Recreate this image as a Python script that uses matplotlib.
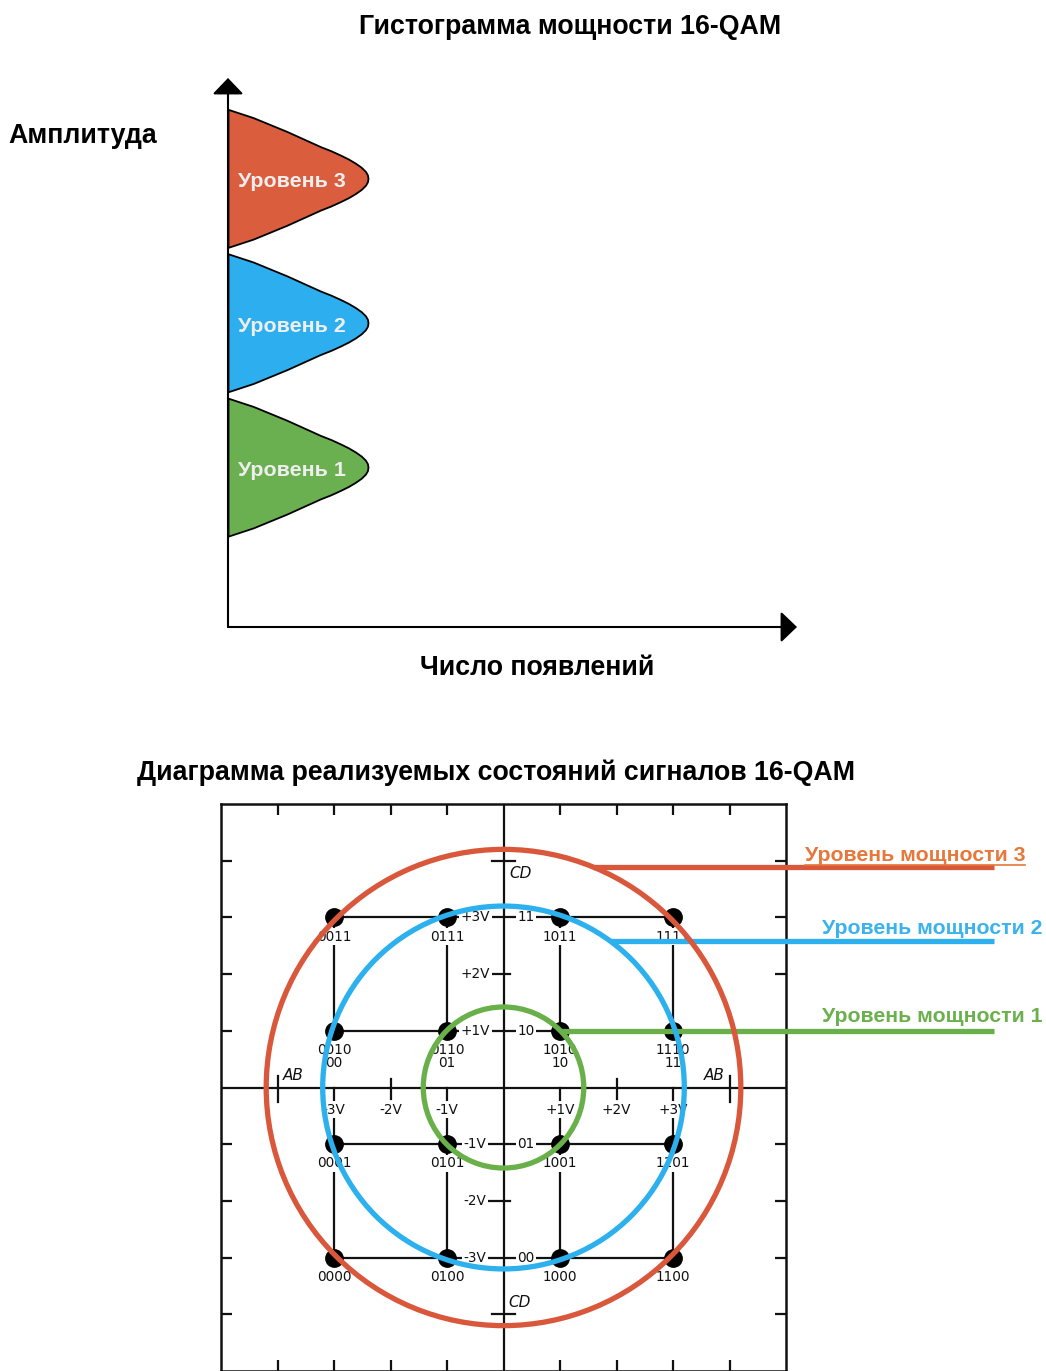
import numpy as np
import matplotlib
matplotlib.use("Agg")
import matplotlib.pyplot as plt
from matplotlib.patches import Circle

plt.rcParams["font.family"] = ["Liberation Sans", "DejaVu Sans"]

W, H = 1046, 1371

# ---------------- power histogram data ----------------
hist_levels = [1, 2, 3]
hist_names = ["Уровень 1", "Уровень 2", "Уровень 3"]
hist_colors = ["#6AAF50", "#2DAFEF", "#DA5E3E"]
# shared bell profile: offset from level centre (in half-heights) -> relative count
profile_offset = [-1.0, -0.88, -0.78, -0.68, -0.57, -0.46, -0.40, -0.34, -0.28,
                  -0.22, -0.16, -0.10, -0.05, 0.0,
                  0.05, 0.10, 0.16, 0.22, 0.28, 0.34, 0.40, 0.46, 0.57, 0.68,
                  0.78, 0.88, 1.0]
profile_count = [0.0, 0.18, 0.30, 0.42, 0.54, 0.66, 0.735, 0.80, 0.86,
                 0.91, 0.952, 0.982, 0.996, 1.0,
                 0.996, 0.982, 0.952, 0.91, 0.86, 0.80, 0.735, 0.66, 0.54, 0.42,
                 0.30, 0.18, 0.0]
level_half_height = 0.478

# ---------------- 16-QAM constellation data ----------------
point_i = [-3, -1, 1, 3, -3, -1, 1, 3, -3, -1, 1, 3, -3, -1, 1, 3]
point_q = [3, 3, 3, 3, 1, 1, 1, 1, -1, -1, -1, -1, -3, -3, -3, -3]
point_code = ["0011", "0111", "1011", "1111",
              "0010", "0110", "1010", "1110",
              "0001", "0101", "1001", "1101",
              "0000", "0100", "1000", "1100"]
row1_i = [-3, -1, 1, 3]
row1_sub = ["00", "01", "10", "11"]

q_volt_values = [3, 2, 1, -1, -2, -3]
q_volt_labels = ["+3V", "+2V", "+1V", "-1V", "-2V", "-3V"]
q_bit_values = [3, 1, -1, -3]
q_bit_labels = ["11", "10", "01", "00"]
i_volt_values = [-3, -2, -1, 1, 2, 3]
i_volt_labels = ["-3V", "-2V", "-1V", "+1V", "+2V", "+3V"]

power_radius = [1.42, 3.2, 4.2]
power_names = ["Уровень мощности 1", "Уровень мощности 2", "Уровень мощности 3"]
power_colors = ["#69B04A", "#2CB0EE", "#D9573A"]
power_text_colors = ["#6AB04C", "#3AB2EE", "#E5783A"]
connector_q = [1.0, 2.58, 3.89]

fig = plt.figure(figsize=(W / 100, H / 100), dpi=100)


def fig_xy(px, py):
    return px / W, 1 - py / H


# ---------------- histogram ----------------
ax1 = fig.add_axes([228 / W, 1 - 627 / H, 569 / W, 549 / H])
ax1.set_xlim(0, 569 / 140)
ax1.set_ylim(-0.107, 3.695)
ax1.axis("off")

off = np.array(profile_offset)
cnt = np.array(profile_count)
for lvl, name, col in zip(hist_levels, hist_names, hist_colors):
    yy = lvl + off * level_half_height
    ax1.fill_betweenx(yy, 0, cnt, facecolor=col, edgecolor="black",
                      linewidth=1.3, zorder=2)
    ax1.text(0.07, lvl - 0.025, name, color="#EEEEEE", fontsize=15.4,
             fontweight="bold", ha="left", va="center", zorder=3)

arrow = dict(arrowstyle="-|>,head_length=0.5,head_width=0.48", lw=1.5,
             color="black", shrinkA=0, shrinkB=0, mutation_scale=20)
ax1.annotate("", xy=(0, 1), xytext=(0, 0), xycoords="axes fraction",
             textcoords="axes fraction", arrowprops=arrow, zorder=4)
ax1.annotate("", xy=(1, 0), xytext=(0, 0), xycoords="axes fraction",
             textcoords="axes fraction", arrowprops=arrow, zorder=4)

title_fs = 19.3
fig.text(*fig_xy(570, 27), "Гистограмма мощности 16-QAM", fontsize=title_fs,
         fontweight="bold", ha="center", va="center")
fig.text(*fig_xy(8, 136), "Амплитуда", fontsize=title_fs, fontweight="bold",
         ha="left", va="center")
fig.text(*fig_xy(537, 668), "Число появлений", fontsize=title_fs,
         fontweight="bold", ha="center", va="center")
fig.text(*fig_xy(496, 773), "Диаграмма реализуемых состояний сигналов 16-QAM",
         fontsize=title_fs, fontweight="bold", ha="center", va="center")

# ---------------- constellation ----------------
ax2 = fig.add_axes([221 / W, 1 - 1371 / H, 565 / W, 567 / H])
ax2.set_xlim(-5, 5)
ax2.set_ylim(-5, 5)
ticks = [-4, -3, -2, -1, 1, 2, 3, 4]
ax2.set_xticks(ticks)
ax2.set_yticks(ticks)
ax2.tick_params(direction="in", length=8, width=1.6, top=True, right=True,
                labelbottom=False, labelleft=False, color="#111111")
for s in ax2.spines.values():
    s.set_linewidth(1.8)
    s.set_color("#111111")

lab_font = dict(family="DejaVu Sans", fontsize=9.8, color="#111111")
box = dict(boxstyle="square,pad=0.12", fc="white", ec="none")

# central axes
ax2.axhline(0, color="#111111", lw=1.6, zorder=1)
ax2.axvline(0, color="#111111", lw=1.6, zorder=1)
# end ticks on the central axes
for v in (-4, 4):
    ax2.plot([v, v], [-0.25, 0.2], color="#111111", lw=1.6, zorder=1)
    ax2.plot([-0.2, 0.2], [v, v], color="#111111", lw=1.6, zorder=1)
for v in (-2, 2):
    ax2.plot([v, v], [-0.2, 0.15], color="#111111", lw=1.6, zorder=1)
    ax2.plot([-0.25, 0.12], [v, v], color="#111111", lw=1.6, zorder=1)

# grid lines joining the symbol points
grid_lw = 1.6
for q in (3, 1, -1, -3):
    ax2.plot([-3, 3], [q, q], color="#111111", lw=grid_lw, zorder=1)
for i in (-3, -1, 1, 3):
    ax2.plot([i, i], [3, 1], color="#111111", lw=grid_lw, zorder=1)
    ax2.plot([i, i], [0, -3], color="#111111", lw=grid_lw, zorder=1)

# voltage / bit labels on the axes
for v, t in zip(q_volt_values, q_volt_labels):
    ax2.text(-0.5, v, t, ha="center", va="center", bbox=box, zorder=2, **lab_font)
for v, t in zip(q_bit_values, q_bit_labels):
    ax2.text(0.4, v, t, ha="center", va="center", bbox=box, zorder=2, **lab_font)
for v, t in zip(i_volt_values, i_volt_labels):
    ax2.text(v, -0.39, t, ha="center", va="center", bbox=box, zorder=2, **lab_font)

# symbol points and their codes
ax2.plot(point_i, point_q, "o", color="black", markersize=12.5, zorder=3)
for i, q, c in zip(point_i, point_q, point_code):
    ax2.text(i, q - 0.34, c, ha="center", va="center", bbox=box, zorder=2, **lab_font)
for i, c in zip(row1_i, row1_sub):
    ax2.text(i, 1 - 0.57, c, ha="center", va="center", bbox=box, zorder=2, **lab_font)

ital = dict(family="DejaVu Sans", fontsize=11, style="italic", color="#111111")
ax2.text(-3.72, 0.22, "AB", ha="center", va="center", zorder=2, **ital)
ax2.text(3.73, 0.22, "AB", ha="center", va="center", zorder=2, **ital)
ax2.text(0.3, 3.77, "CD", ha="center", va="center", zorder=2, **ital)
ax2.text(0.28, -3.79, "CD", ha="center", va="center", zorder=2, **ital)

# power level circles and their connectors
legend_x = [5.63, 5.63, 5.33]
legend_y = [1.26, 2.81, 4.1]
for r, name, col, tcol, cq, lx, ly in zip(power_radius, power_names, power_colors,
                                          power_text_colors, connector_q,
                                          legend_x, legend_y):
    ax2.add_patch(Circle((0, 0), r, fill=False, edgecolor=col, lw=3.8, zorder=4))
    x0 = np.sqrt(max(r ** 2 - cq ** 2, 0))
    ax2.plot([x0, 8.69], [cq, cq], color=col, lw=3.8, solid_capstyle="butt",
             clip_on=False, zorder=4)
    ax2.text(lx, ly, name, color=tcol, fontsize=15.3, fontweight="bold",
             ha="left", va="center", clip_on=False, zorder=5)
    if r == max(power_radius):
        ax2.plot([lx, lx + 220 / 56.5], [ly - 0.17, ly - 0.17], color=tcol,
                 lw=1.2, clip_on=False, zorder=5)

fig.savefig("out.png", dpi=100, facecolor="white")
